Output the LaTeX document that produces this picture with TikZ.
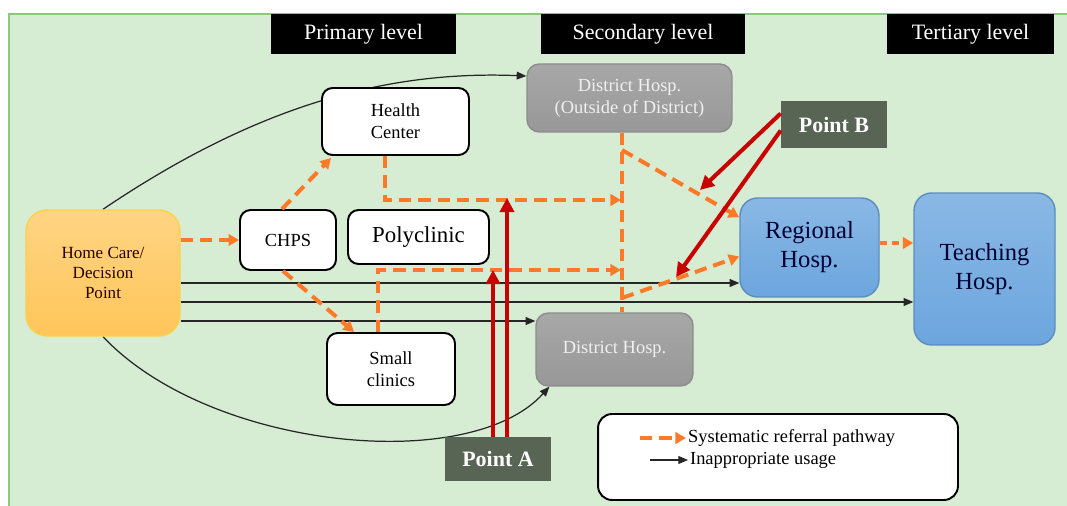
\documentclass[tikz,border=0pt]{standalone}
\usepackage{fontspec}
\setmainfont{Liberation Serif}
\usetikzlibrary{arrows.meta,calc}

\definecolor{bggreen}{RGB}{214,236,211}
\definecolor{bgline}{RGB}{140,200,120}
\definecolor{refcol}{RGB}{255,122,40}
\definecolor{ptcol}{RGB}{88,100,84}
\definecolor{hosgrey}{RGB}{152,152,152}
\definecolor{regblue}{RGB}{108,166,222}
\definecolor{homeor}{RGB}{255,198,90}
\definecolor{redarr}{RGB}{200,0,0}

\pgfdeclarelayer{bg}
\pgfdeclarelayer{lines}
\pgfsetlayers{bg,lines,main}

\tikzset{
  lvl/.style={fill=black,text=white,minimum height=0.8cm,font=\fontsize{12.5}{14}\selectfont},
  wbox/.style={draw=black,line width=1.1pt,fill=white,rounded corners=6pt,align=center,font=\fontsize{10.5}{12.5}\selectfont},
  gbox/.style={draw=black!45,line width=0.8pt,top color=hosgrey!85!white,bottom color=hosgrey,rounded corners=7pt,text=white!94!black,align=center,font=\fontsize{10.5}{12.5}\selectfont},
  bbox/.style={draw=regblue!85!black,line width=0.8pt,top color=regblue!80!white,bottom color=regblue,rounded corners=10pt,align=center,text=black!80!blue,font=\fontsize{14}{16.5}\selectfont},
  ptbox/.style={fill=ptcol,text=white,font=\bfseries\fontsize{12.5}{14}\selectfont},
  refer/.style={draw=refcol,line width=2.3pt,dash pattern=on 7pt off 4pt,-{Triangle[length=6pt,width=6.5pt]}},
  misuse/.style={draw=black!85,line width=0.7pt,-{Triangle[length=5.5pt,width=4.5pt]}},
  pointer/.style={draw=redarr,line width=2.3pt,-{Triangle[length=8pt,width=8pt]}},
}

\begin{document}
\begin{tikzpicture}[x=0.02cm,y=-0.02cm]

      \useasboundingbox (0,0) rectangle (1067,506);
      \begin{pgfonlayer}{bg}
        \fill[bggreen] (9,14) rectangle (1067,506);
        \draw[bgline,line width=1pt] (9,506) -- (9,14) -- (1067,14);
      \end{pgfonlayer}

      \begin{scope}[every node/.style=lvl]
        \node[minimum width=3.7cm]  (prim) at (363.5,34) {Primary level};
        \node[minimum width=4.08cm] (sec)  at (643,34)   {Secondary level};
        \node[minimum width=3.34cm] (tert) at (970.5,34) {Tertiary level};
      \end{scope}

      \node[draw=homeor!80!yellow,line width=0.8pt,rounded corners=12pt,top color=homeor!75!white,bottom color=homeor,
            minimum width=3.08cm,minimum height=2.52cm,align=center,text=black!85!red,
            font=\fontsize{9.7}{11.6}\selectfont] (home) at (103,273) {Home Care/\\Decision\\Point};

      \begin{scope}[every node/.style=wbox]
        \node[minimum width=1.92cm,minimum height=1.2cm]  (chps) at (288,240)   {CHPS};
        \node[minimum width=2.94cm,minimum height=1.34cm] (hc)   at (395.5,121.5) {Health\\Center};
        \node[minimum width=2.82cm,minimum height=1.08cm,font=\fontsize{13}{15}\selectfont] (poly) at (418.5,237) {Polyclinic};
        \node[minimum width=2.56cm,minimum height=1.44cm] (sc)   at (391,369)   {Small\\clinics};
      \end{scope}

      \begin{scope}[every node/.style=gbox]
        \node[minimum width=4.1cm,minimum height=1.36cm]  (dho) at (629.5,98)  {District Hosp.\\(Outside of District)};
        \node[minimum width=3.14cm,minimum height=1.46cm] (dh)  at (614.5,349.5) {District Hosp.};
      \end{scope}

      \begin{scope}[every node/.style=bbox]
        \node[minimum width=2.78cm,minimum height=1.98cm] (reg)   at (809.5,247.5) {Regional\\Hosp.};
        \node[minimum width=2.82cm,minimum height=3.04cm] (teach) at (984.5,269)   {Teaching\\Hosp.};
      \end{scope}

      \begin{scope}[every node/.style=ptbox]
        \node[minimum width=2.12cm,minimum height=0.94cm] (pb) at (834,124.5) {Point B};
        \node[minimum width=2.12cm,minimum height=0.88cm] (pa) at (498,459)   {Point A};
      \end{scope}

      \node[draw,line width=1.1pt,rounded corners=8pt,fill=white,minimum width=7.2cm,minimum height=1.72cm] (key) at (778,457) {};
      \begin{scope}[every node/.style={anchor=west,inner sep=1pt,font=\fontsize{10.5}{12.5}\selectfont}]
        \node (ksys)  at (686,438) {Systematic referral pathway};
        \node (kinap) at (688,460) {Inappropriate usage};
      \end{scope}

      \coordinate (j1) at (621,200);
      \coordinate (j2) at (621,270);
      \coordinate (k1) at (622,150);
      \coordinate (k2) at (622,298);
      \coordinate (a1) at (507,198);
      \coordinate (a2) at (493,270);
      \coordinate (b1) at (700,190);
      \coordinate (b2) at (676,277);
      \coordinate (ks) at (640,438);
      \coordinate (ki) at (650,460);

      \begin{pgfonlayer}{lines}
        \draw[misuse] (home.north) .. controls (250,110) and (380,70) .. ($(dho.west)+(0,-22)$);
        \draw[misuse] (home.south) .. controls (210,450) and (470,475) .. ($(dh.south west)+(14,0)$);
        \begin{scope}[every edge/.style=misuse]
          \path (home.east |- 0,283) edge (reg.west |- 0,283);
          \path (home.east |- 0,302) edge (teach.west |- 0,302);
          \path (home.east |- 0,321) edge (dh.west |- 0,321);
        \end{scope}
      \end{pgfonlayer}

      \draw[refer,-] (622,0 |- dho.south) -- (622,0 |- dh.north);
      \draw[refer] (385,0 |- hc.south) -- (385,200) -- (j1);
      \draw[refer] (378,0 |- sc.north) -- (378,270) -- (j2);

      \begin{scope}[every edge/.style=refer]
        \path (home.east |- 0,240) edge (chps.west |- 0,240);
        \path ($(chps.north)+(-6,0)$) edge ($(hc.south west)+(10,2)$);
        \path ($(chps.south)+(-5,0)$) edge ($(sc.north west)+(28,0)$);
        \path (k1) edge ($(reg.west)+(0,-30)$);
        \path (k2) edge ($(reg.west)+(0,9)$);
        \path (reg.east |- 0,243) edge[dash pattern=on 4pt off 3pt] (teach.west |- 0,243);
        \path (ks) edge (ksys.west);
      \end{scope}
      \draw[misuse] (ki) -- (kinap.west);

      \begin{scope}[every edge/.style=pointer]
        \path ($(pa.north)+(9,0)$)  edge (a1);
        \path ($(pa.north)+(-5,0)$) edge (a2);
        \path ($(pb.west)+(0,-11)$) edge (b1);
        \path ($(pb.west)+(0,6)$)   edge (b2);
      \end{scope}

    \end{tikzpicture}
\end{document}
